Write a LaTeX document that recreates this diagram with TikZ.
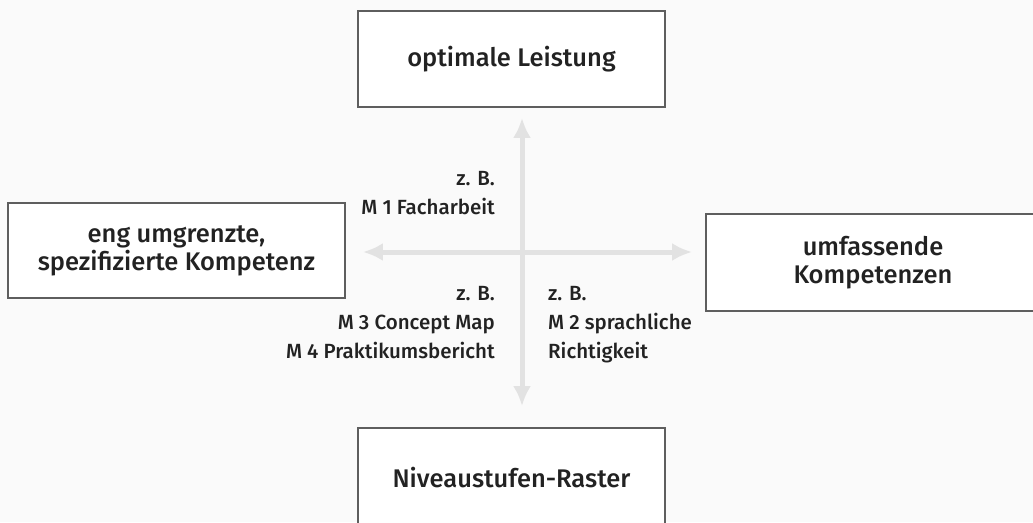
\documentclass[tikz,border=0pt]{standalone}
\usepackage{fontspec}
\setmainfont{Fira Sans}[UprightFont={* Medium}]
\usetikzlibrary{arrows.meta}
\definecolor{bg}{HTML}{FAFAFA}
\definecolor{boxline}{HTML}{5E5E5E}
\definecolor{arrgray}{HTML}{E2E2E2}
\definecolor{txt}{HTML}{222222}
\tikzset{
  box/.style={draw=boxline, line width=1.8pt, fill=white, align=center, text=txt,
    font=\fontsize{25.5}{28}\selectfont, inner sep=0pt},
  lbl/.style={text=txt, font=\fontsize{20.5}{29}\selectfont, inner sep=0pt},
  arr/.style={draw=arrgray, line width=5pt, {Latex[length=20pt,width=18pt]}-{Latex[length=20pt,width=18pt]}},
}
\begin{document}
\begin{tikzpicture}[x=1pt,y=-1pt]
\useasboundingbox[fill=bg] (0,0) rectangle (1033,522);
\node[box, minimum width=307pt, minimum height=96pt] (top) at (511.5,59) {optimale Leistung};
\node[box, minimum width=337pt, minimum height=95pt] (left) at (176.5,250.5) {eng umgrenzte,\\spezifizierte Kompetenz};
\node[box, minimum width=334pt, minimum height=97pt] (right) at (873,262.5) {umfassende\\Kompetenzen};
\node[box, minimum width=307pt, minimum height=100pt] (bot) at (511.5,478) {Niveaustufen-Raster};
\coordinate (c) at (522,252);
\draw[arr, shorten <=10pt, shorten >=21pt] (c |- top.south) -- (c |- bot.north);
\draw[arr, shorten <=17pt, shorten >=13pt] (left.east |- c) -- (right.west |- c);
\node[lbl, align=right, anchor=north east] (q1) at (495,171) {z. B.\\M 1 Facharbeit};
\node[lbl, align=right, anchor=north east] (q3) at (495,286) {z. B.\\M 3 Concept Map\\M 4 Praktikumsbericht};
\node[lbl, align=left, anchor=north west] (q2) at (548,286) {z. B.\\M 2 sprachliche\\Richtigkeit};
\end{tikzpicture}
\end{document}
